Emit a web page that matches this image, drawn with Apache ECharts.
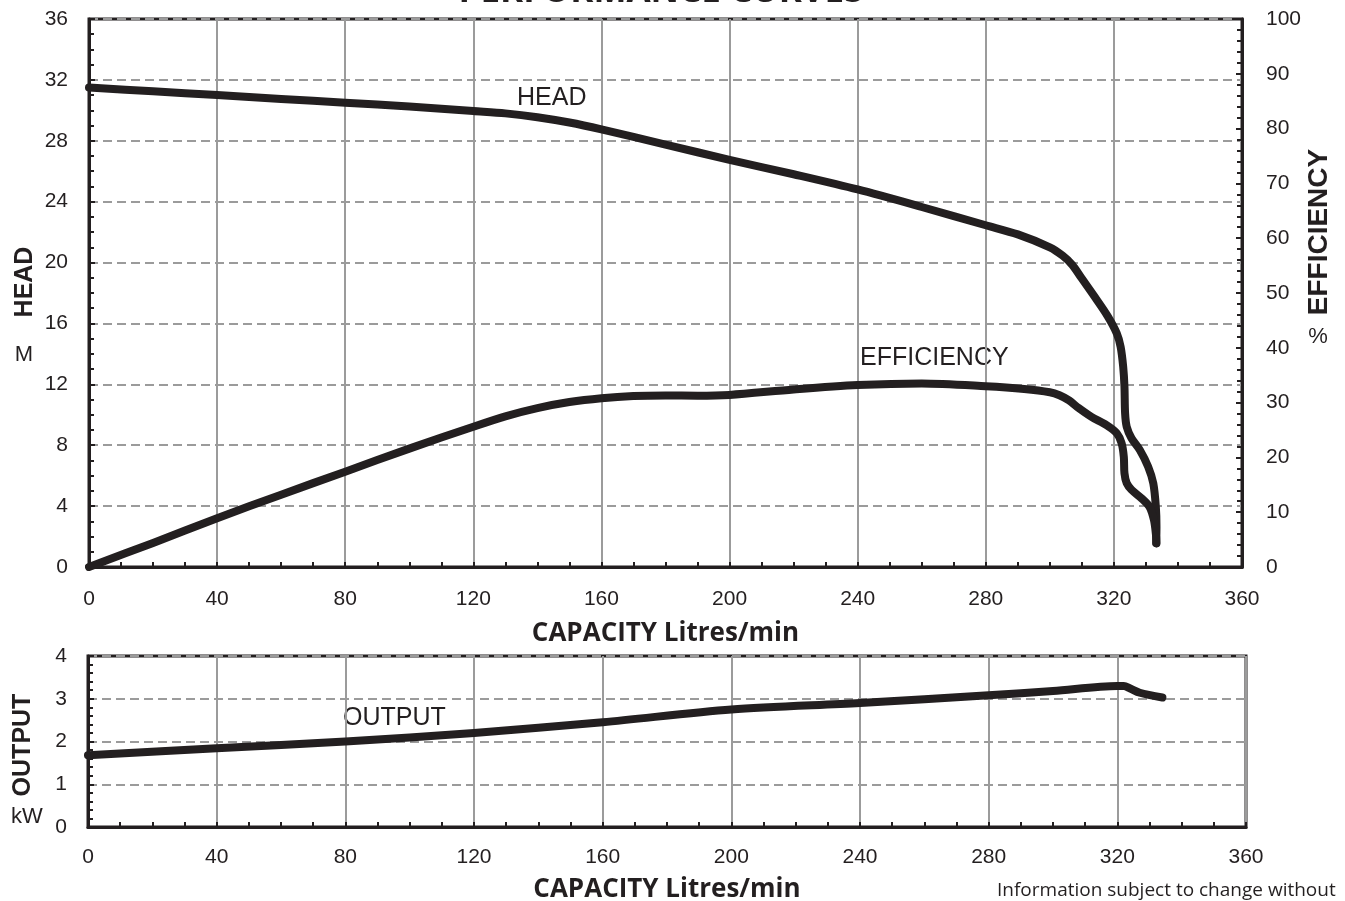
<!DOCTYPE html>
<html>
  <head>
    <meta charset="utf-8" />
    <title>Performance curves</title>
    <script src="https://cdn.jsdelivr.net/npm/echarts/dist/echarts.min.js"></script>
    <style>
      html, body { margin: 0; padding: 0; background: #fff; }
      #main { width: 1345px; height: 901px; }
    </style>
  </head>
  <body>
    <div id="main"></div>
    <script>
      // 数据 (capacity L/min -> value)
      var headFlow = [0, 20, 40, 60, 80, 100, 120, 130, 140, 150, 160, 180, 200, 220, 240, 260, 280, 290, 300, 304, 307, 310, 314, 318, 320.9, 322.1, 322.9, 323.3, 323.5, 324.0, 325.5, 328.1, 330.7, 332.3, 333.1, 333.3, 333.2]
      var headValue = [31.5, 31.25, 31.0, 30.75, 30.5, 30.25, 29.95, 29.8, 29.55, 29.2, 28.75, 27.75, 26.75, 25.8, 24.8, 23.65, 22.45, 21.85, 21.0, 20.45, 19.85, 18.95, 17.75, 16.5, 15.35, 14.47, 13.16, 11.85, 10.1, 9.22, 8.46, 7.69, 6.59, 5.5, 3.96, 2.65, 1.56]

      var effFlow = [0, 20, 40, 60, 80, 100, 120, 130, 140, 150, 160, 170, 180, 190, 200, 220, 240, 260, 280, 292, 300, 303, 306, 309, 313, 317.7, 320.9, 322.4, 323.1, 323.3, 324.0, 325.5, 328.7, 331.1, 332.5, 333.1, 333.3]
      var effValue = [0, 4.4, 8.9, 13.2, 17.4, 21.6, 25.6, 27.5, 29.0, 30.1, 30.8, 31.2, 31.3, 31.25, 31.4, 32.4, 33.2, 33.5, 33.0, 32.5, 31.9, 31.35, 30.4, 29.0, 27.4, 25.9, 24.4, 22.6, 20.1, 17.1, 15.3, 14.1, 12.5, 11.0, 8.6, 6.1, 4.3]

      var outFlow = [0, 40, 80, 120, 160, 200, 240, 280, 300, 320, 322, 324, 327, 334]
      var outValue = [1.68, 1.84, 2.0, 2.2, 2.45, 2.75, 2.9, 3.08, 3.18, 3.3, 3.3, 3.24, 3.14, 3.03]

      var xTicks = { min: 0, max: 360, interval: 40 }

      function pairs(xs, ys) {
        return xs.map(function (x, i) { return [x, ys[i]] })
      }

      var ink = '#231f20'
      var gridGray = '#9b9b9b'
      var tickFont = { fontFamily: 'Liberation Sans', fontSize: 21, color: ink }

      function xAxisFor(gridIndex, name, gap, labelMargin) {
        return {
          type: 'value', gridIndex: gridIndex,
          min: xTicks.min, max: xTicks.max, interval: xTicks.interval,
          name: name, nameLocation: 'middle', nameGap: gap,
          nameTextStyle: { fontFamily: 'Open Sans', fontWeight: 'bold', fontSize: 26, color: ink },
          axisLine: { lineStyle: { color: ink, width: 3 } },
          axisTick: { inside: true, length: 5, lineStyle: { color: ink, width: 2 } },
          minorTick: { show: true, splitNumber: 4, length: 5, lineStyle: { color: ink, width: 2 } },
          axisLabel: Object.assign({ margin: labelMargin }, tickFont),
          splitLine: { show: true, lineStyle: { color: gridGray, width: 2 } }
        }
      }

      function yAxisFor(gridIndex, min, max, interval, minorSplit, pos, split) {
        return {
          type: 'value', gridIndex: gridIndex, position: pos,
          min: min, max: max, interval: interval,
          axisLine: { show: true, lineStyle: { color: ink, width: 3 } },
          axisTick: { show: true, inside: true, length: 6, lineStyle: { color: ink, width: 2 } },
          minorTick: { show: true, splitNumber: minorSplit, length: 5, lineStyle: { color: ink, width: 2 } },
          axisLabel: Object.assign({ margin: pos === 'right' ? 24 : 21 }, tickFont),
          splitLine: { show: split, lineStyle: { color: gridGray, width: 2, type: [9, 5] } }
        }
      }

      var curveStyle = { color: ink, width: 8, cap: 'round', join: 'round' }

      var myChart = echarts.init(document.getElementById('main'))
      var option = {
        animation: false,
        grid: [
          { left: 89, top: 19, right: 103, bottom: 334, show: true, borderColor: ink, borderWidth: 3, outerBoundsMode: 'none' },
          { left: 88, top: 656, right: 99, bottom: 74, show: true, borderColor: ink, borderWidth: 3, outerBoundsMode: 'none' }
        ],
        xAxis: [
          xAxisFor(0, 'CAPACITY Litres/min', 54, 22),
          xAxisFor(1, 'CAPACITY Litres/min', 50, 20)
        ],
        yAxis: [
          yAxisFor(0, 0, 36, 4, 4, 'left', true),
          yAxisFor(0, 0, 100, 10, 5, 'right', false),
          yAxisFor(1, 0, 4, 1, 5, 'left', true)
        ],
        series: [
          {
            name: 'HEAD', type: 'line', xAxisIndex: 0, yAxisIndex: 0,
            data: pairs(headFlow, headValue), symbol: 'none', smooth: 0.3,
            lineStyle: curveStyle, z: 5
          },
          {
            name: 'EFFICIENCY', type: 'line', xAxisIndex: 0, yAxisIndex: 1,
            data: pairs(effFlow, effValue), symbol: 'none', smooth: 0.3,
            lineStyle: curveStyle, z: 5
          },
          {
            name: 'OUTPUT', type: 'line', xAxisIndex: 1, yAxisIndex: 2,
            data: pairs(outFlow, outValue), symbol: 'none', smooth: 0.3,
            lineStyle: curveStyle, z: 5
          }
        ],
        graphic: [
          // 标题 (cut at top edge like the original)
          { type: 'text', position: [661, 10], style: { text: 'PERFORMANCE CURVES', align: 'center', verticalAlign: 'bottom', font: 'bold 35px "Open Sans"', fill: ink } },
          // 曲线名称
          { type: 'text', position: [517, 98], style: { text: 'HEAD', verticalAlign: 'middle', font: '25px "Liberation Sans"', fill: ink } },
          { type: 'text', position: [860, 358], style: { text: 'EFFICIENCY', verticalAlign: 'middle', font: '25px "Liberation Sans"', fill: ink } },
          { type: 'text', position: [343, 718], style: { text: 'OUTPUT', verticalAlign: 'middle', font: '25px "Liberation Sans"', fill: ink } },
          // 轴标题
          { type: 'text', position: [25, 282], rotation: Math.PI / 2, style: { text: 'HEAD', align: 'center', verticalAlign: 'middle', font: 'bold 25px "Liberation Sans"', fill: ink } },
          { type: 'text', position: [24, 355], style: { text: 'M', align: 'center', verticalAlign: 'middle', font: '22px "Liberation Sans"', fill: ink } },
          { type: 'text', position: [1319, 232], rotation: Math.PI / 2, style: { text: 'EFFICIENCY', align: 'center', verticalAlign: 'middle', font: 'bold 28px "Liberation Sans"', fill: ink } },
          { type: 'text', position: [1318, 337], style: { text: '%', align: 'center', verticalAlign: 'middle', font: '22px "Liberation Sans"', fill: ink } },
          { type: 'text', position: [23, 745], rotation: Math.PI / 2, style: { text: 'OUTPUT', align: 'center', verticalAlign: 'middle', font: 'bold 25px "Liberation Sans"', fill: ink } },
          { type: 'text', position: [27, 817], style: { text: 'kW', align: 'center', verticalAlign: 'middle', font: '22px "Liberation Sans"', fill: ink } },
          // 页脚
          { type: 'text', position: [997, 891], style: { text: 'Information subject to change without', verticalAlign: 'middle', font: '19px "Open Sans"', fill: ink } }
        ]
      }
      myChart.setOption(option)
    </script>
  </body>
</html>
